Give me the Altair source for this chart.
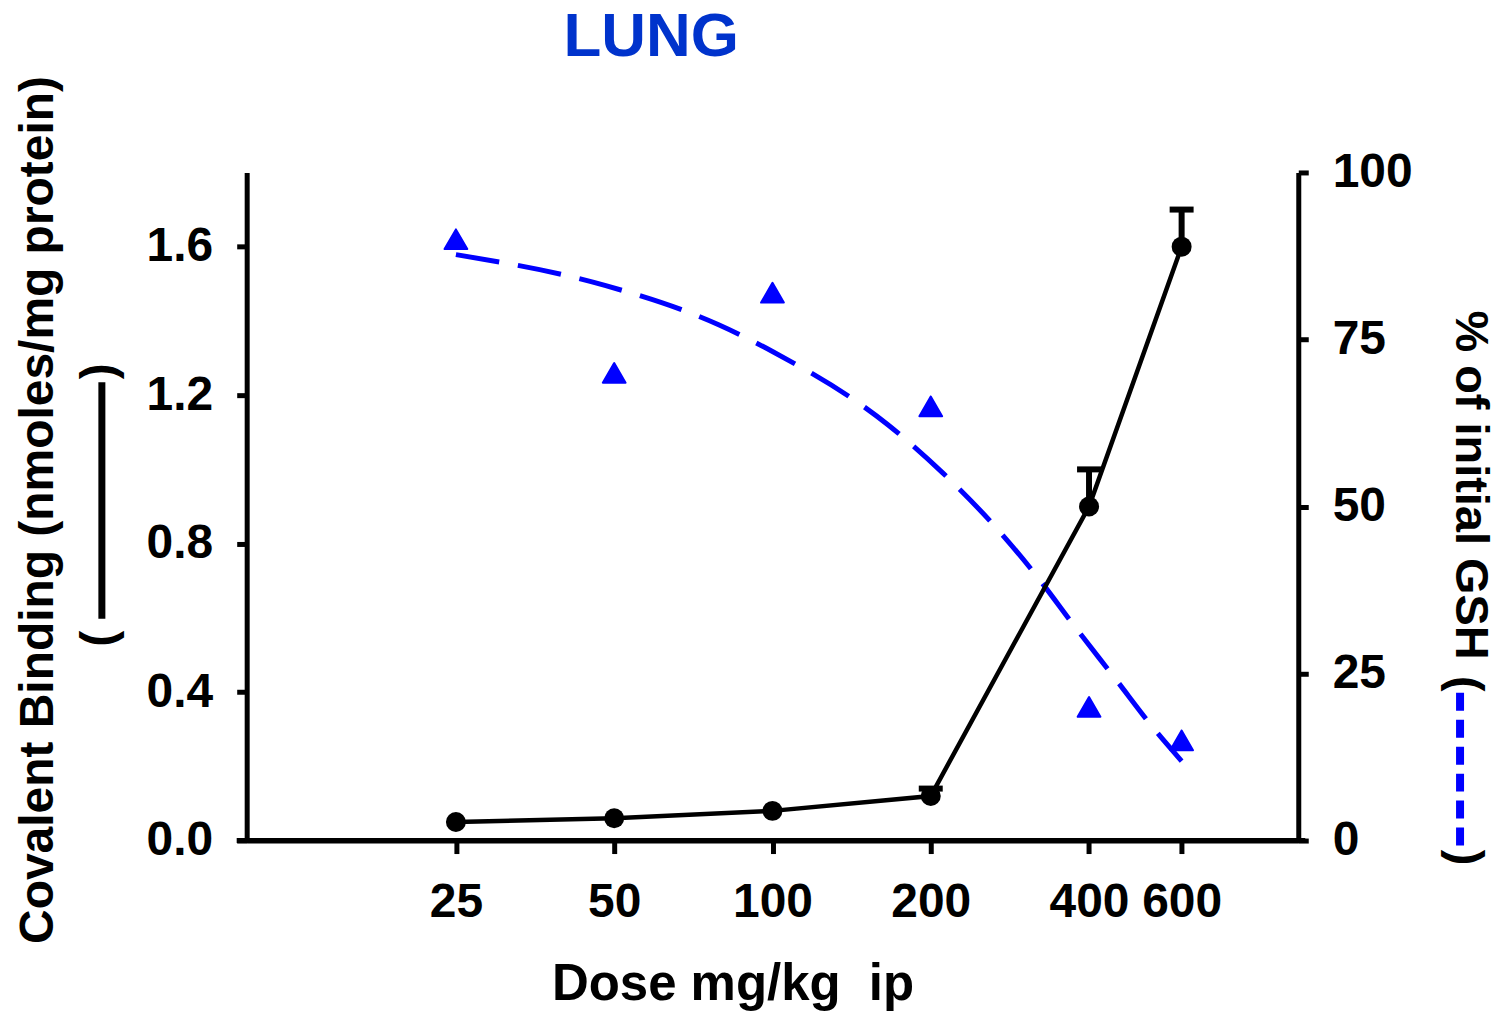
import altair as alt
import pandas as pd

# ---------------- data ----------------
dose = [25, 50, 100, 200, 400, 600]
binding = [0.05, 0.06, 0.08, 0.12, 0.90, 1.60]          # covalent binding, nmoles/mg protein
err_dose = [200, 400, 600]
err_upper = [0.14, 1.00, 1.70]
gsh = [90, 70, 82, 65, 20, 15]                          # % of initial GSH (triangles)
curve_dose = [25, 48, 79, 100, 166, 211, 263, 318, 376, 448, 532, 600]
curve_gsh = [87.7, 83.1, 77.2, 73.2, 62.2, 55.0, 47.3, 39.6, 32.0, 24.3, 16.7, 11.9]

x_ticks = [25, 50, 100, 200, 400, 600]
yl_ticks = [0, 0.4, 0.8, 1.2, 1.6]
yr_ticks = [0, 25, 50, 75, 100]

title_text = "LUNG"
x_title = "Dose mg/kg\u00a0 ip"
yl_title = "Covalent Binding (nmoles/mg protein)"
yr_title = "% of initial GSH"

# ---------------- style ----------------
W, H = 1053, 669
FONT = "Liberation Sans"
BLUE = "#0000ff"
LBL = 48

df_b = pd.DataFrame({"dose": dose, "binding": binding})
df_e = pd.DataFrame({"dose": err_dose, "lo": [binding[dose.index(d)] for d in err_dose], "hi": err_upper})
df_g = pd.DataFrame({"dose": dose, "gsh": gsh})
df_c = pd.DataFrame({"dose": curve_dose, "gsh": curve_gsh})

x_scale = alt.Scale(type="log", domain=[10, 1000])
x_axis = alt.Axis(values=x_ticks, format="d", title=None, grid=False, tickSize=13, tickWidth=5,
                  domainWidth=5, domainColor="black", tickColor="black", labelColor="black",
                  labelFont=FONT, labelFontWeight="bold", labelFontSize=LBL, labelPadding=25,
                  labelOverlap=False, labelFlush=False)
X = alt.X("dose:Q", scale=x_scale, axis=x_axis)

yl_scale = alt.Scale(domain=[0, 1.8], nice=False, zero=True)
yl_axis = alt.Axis(orient="left", values=yl_ticks, format=".1f", title=None, grid=False, tickSize=10,
                   tickWidth=5, domainWidth=5, domainColor="black", tickColor="black", labelColor="black",
                   labelFont=FONT, labelFontWeight="bold", labelFontSize=LBL, labelPadding=24)
yr_scale = alt.Scale(domain=[0, 100], nice=False)
yr_axis = alt.Axis(orient="right", values=yr_ticks, format="d", title=None, grid=False, tickSize=10,
                   tickWidth=5, domainWidth=5, domainColor="black", tickColor="black", labelColor="black",
                   labelFont=FONT, labelFontWeight="bold", labelFontSize=LBL, labelPadding=24)

# left axis layers (covalent binding)
line_b = alt.Chart(df_b).mark_line(color="black", strokeWidth=4.5).encode(
    x=X, y=alt.Y("binding:Q", scale=yl_scale, axis=yl_axis))
err_b = alt.Chart(df_e).mark_rule(color="black", strokeWidth=6).encode(
    x=X, y=alt.Y("lo:Q", scale=yl_scale, axis=yl_axis), y2="hi:Q")
cap_b = alt.Chart(df_e).mark_tick(color="black", orient="horizontal", size=24, thickness=6, opacity=1).encode(
    x=X, y=alt.Y("hi:Q", scale=yl_scale, axis=yl_axis))
pts_b = alt.Chart(df_b).mark_point(shape="circle", filled=True, color="black", size=400, opacity=1).encode(
    x=X, y=alt.Y("binding:Q", scale=yl_scale, axis=yl_axis))
left = alt.layer(line_b, err_b, cap_b, pts_b)

# right axis layers (GSH)
curve = alt.Chart(df_c).mark_line(color=BLUE, strokeWidth=5, strokeDash=[44, 19], interpolate="monotone").encode(
    x=X, y=alt.Y("gsh:Q", scale=yr_scale, axis=yr_axis))
tri = alt.Chart(df_g).mark_point(shape="triangle-up", filled=True, color=BLUE, size=520, opacity=1,
                                 stroke=BLUE, strokeWidth=2, strokeJoin="round").encode(
    x=X, y=alt.Y("gsh:Q", scale=yr_scale, axis=yr_axis))
right = alt.layer(curve, tri)


def label(text, x, y, size=48, angle=0, color="black", baseline="middle", align="center"):
    return alt.Chart(pd.DataFrame({"t": [text]})).mark_text(
        font=FONT, fontWeight="bold", fontSize=size, angle=angle, color=color,
        baseline=baseline, align=align).encode(text="t:N", x=alt.value(x), y=alt.value(y))


def deco_rule(x, y1, y2, color, width, dash=None):
    kw = dict(color=color, strokeWidth=width)
    if dash:
        kw["strokeDash"] = dash
    return alt.Chart(pd.DataFrame({"a": [0]})).mark_rule(**kw).encode(
        x=alt.value(x), y=alt.value(y1), y2=alt.value(y2))


axis_ext = alt.Chart(pd.DataFrame({"a": [0]})).mark_rule(color="black", strokeWidth=5).encode(
    x=alt.value(-10), x2=alt.value(W + 7), y=alt.value(H))

texts = [
    label(title_text, 405, -117, size=62, color="#0033cc", baseline="alphabetic"),
    label(x_title, 487, 829, size=51, baseline="alphabetic"),
    label(yl_title, -208, 338, angle=270),
    label("(", -147, 467, angle=270),
    label(")", -147, 199, angle=270),
    deco_rule(-145, 210, 447, "black", 7),
    label(yr_title, 1225, 313, size=47, angle=90),
    label("(", 1220, 512, size=47, angle=90),
    label(")", 1220, 686, size=47, angle=90),
    deco_rule(1215, 521, 678, BLUE, 8, [18, 9]),
    axis_ext,
]

chart = alt.layer(right, left, *texts).resolve_scale(y="independent").properties(
    width=W, height=H,
    autosize=alt.AutoSizeParams(type="none"),
    padding={"left": 239, "top": 164, "right": 200, "bottom": 170},
).configure_view(stroke=None)

chart.save("out.html", embed_options={"renderer": "svg", "actions": False})
